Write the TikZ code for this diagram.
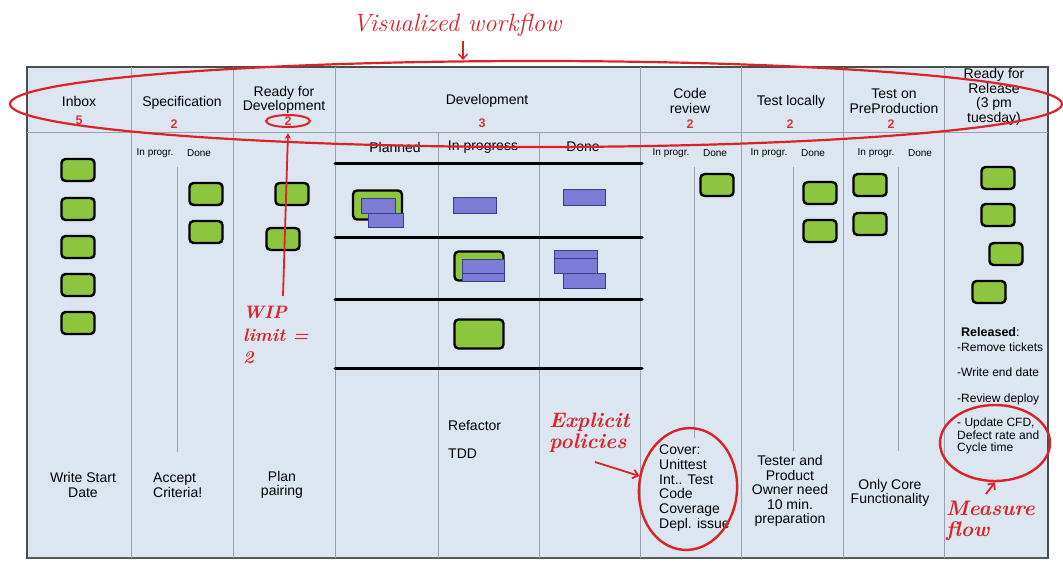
\documentclass[tikz,border=0pt]{standalone}
\usepackage{fontspec}
\setsansfont{Liberation Sans}
\usetikzlibrary{shapes.geometric,arrows.meta}
\definecolor{boardBlue}{HTML}{DCE6F1}
\definecolor{gridGray}{HTML}{9AA3AD}
\definecolor{cardGreen}{HTML}{8CC63E}
\definecolor{taskPurple}{HTML}{7C7CD6}
\definecolor{taskBorder}{HTML}{3B3B8F}
\definecolor{noteRed}{HTML}{DC2228}
\definecolor{limitRed}{HTML}{D7343A}

\begin{document}
\begin{tikzpicture}[x=1pt, y=-1pt,
  boardText/.style={font=\sffamily\fontsize{14}{14.6}\selectfont, inner sep=0pt, align=center},
  subText/.style={font=\sffamily\fontsize{10}{11}\selectfont, inner sep=0pt},
  listText/.style={font=\sffamily\fontsize{12}{12.5}\selectfont, inner sep=0pt, anchor=west, align=left},
  limitText/.style={font=\sffamily\bfseries\fontsize{12.5}{13}\selectfont, text=limitRed, inner sep=0pt},
  cardStyle/.style={draw=black, line width=2.4pt, fill=cardGreen, rounded corners=4pt, minimum width=33pt, minimum height=22pt, inner sep=0pt},
  bigCard/.style={cardStyle, minimum width=49pt, minimum height=29pt},
  taskStyle/.style={draw=taskBorder, line width=0.7pt, fill=taskPurple},
  gridLine/.style={draw=gridGray, line width=1pt},
  laneLine/.style={line width=3pt, line cap=round},
  handText/.style={font=\rmfamily\bfseries\itshape\fontsize{21}{21}\selectfont, text=noteRed, inner sep=0pt, align=left},
  ringStyle/.style={ellipse, draw=noteRed, line width=2.4pt, inner sep=0pt},
  annArrow/.style={draw=noteRed, line width=1.8pt, -{Straight Barb[length=5pt,width=9pt]}}
]
\path[fill=white] (0,0) rectangle (1063,576);
\useasboundingbox (0,0) rectangle (1063,576);

% board and columns
\draw[fill=boardBlue, draw=gray!60!black, line width=1.5pt] (27,67) rectangle (1048,558);
\draw[draw=gray!70!black, line width=2.5pt] (27,558) -- (1048,558);
\draw[gridLine] (27,132) -- (1048,132);
\draw[gridLine] (131,67) -- (131,558);
\draw[gridLine] (233,67) -- (233,558);
\draw[gridLine] (335,67) -- (335,558);
\draw[gridLine] (640,67) -- (640,558);
\draw[gridLine] (741,67) -- (741,558);
\draw[gridLine] (843,67) -- (843,558);
\draw[gridLine] (944,67) -- (944,558);
\draw[gridLine] (438,132) -- (438,558);
\draw[gridLine] (539,132) -- (539,558);
\draw[gridLine] (177,167) -- (177,452);
\draw[gridLine] (694,167) -- (694,438);
\draw[gridLine] (793,167) -- (793,451);
\draw[gridLine] (898,167) -- (898,451);

% swim lanes of development
\draw[laneLine] (335,163) -- (642,163);
\draw[laneLine] (335,237) -- (642,237);
\draw[laneLine] (335,299) -- (642,299);
\draw[laneLine] (335,368) -- (642,368);

% column heads
\node[boardText] (inboxHead)   at (79,101)  {Inbox};
\node[boardText] (specHead)    at (182,103) {Specification};
\node[boardText] (readyHead)   at (284,100) {Ready for\\Development};
\node[boardText] (devHead)     at (487,101) {Development};
\node[boardText] (codeHead)    at (690,101) {Code\\review};
\node[boardText] (testHead)    at (791,102) {Test locally};
\node[boardText] (preHead)     at (894,101) {Test on\\PreProduction};
\node[boardText] (releaseHead) at (994,97)  {Ready for\\Release\\(3 pm\\tuesday)};

\node[limitText] (inboxLimit) at (79,120)  {5};
\node[limitText] (specLimit)  at (174,124) {2};
\node[limitText] (readyLimit) at (288,121) {2};
\node[limitText] (devLimit)   at (482,123) {3};
\node[limitText] (codeLimit)  at (690,124) {2};
\node[limitText] (testLimit)  at (790,124) {2};
\node[limitText] (preLimit)   at (891,124) {2};

\node[subText] (specProg) at (155,153) {In progr.};
\node[subText] (specDone) at (199,153) {Done};
\node[subText] (codeProg) at (671,153) {In progr.};
\node[subText] (codeDone) at (715,153) {Done};
\node[subText] (testProg) at (769,153) {In progr.};
\node[subText] (testDone) at (813,153) {Done};
\node[subText] (preProg)  at (876,153) {In progr.};
\node[subText] (preDone)  at (920,153) {Done};

\node[boardText] (devPlanned)  at (395,147) {Planned};
\node[boardText] (devProgress) at (483,147) {In progress};
\node[boardText] (devDone)     at (583,147) {Done};

% cards
\node[cardStyle] (inboxCardA) at (78,170) {};
\node[cardStyle] (inboxCardB) at (78,209) {};
\node[cardStyle] (inboxCardC) at (78,247) {};
\node[cardStyle] (inboxCardD) at (78,285) {};
\node[cardStyle] (inboxCardE) at (78,323) {};
\node[cardStyle] (specCardA)  at (206,194) {};
\node[cardStyle] (specCardB)  at (206,232) {};
\node[cardStyle] (readyCardA) at (292,194) {};
\node[cardStyle] (readyCardB) at (283,239) {};
\node[cardStyle] (codeCard)   at (717,185) {};
\node[cardStyle] (testCardA)  at (820,193) {};
\node[cardStyle] (testCardB)  at (820,231) {};
\node[cardStyle] (preCardA)   at (870,185) {};
\node[cardStyle] (preCardB)   at (870,224) {};
\node[cardStyle] (relCardA)   at (998,178) {};
\node[cardStyle] (relCardB)   at (998,215) {};
\node[cardStyle] (relCardC)   at (1006,254) {};
\node[cardStyle] (relCardD)   at (989,292) {};
\node[bigCard] (planCard)  at (377.5,205) {};
\node[bigCard] (progCardA) at (479,266) {};
\node[bigCard] (progCardB) at (479,334) {};

% tasks
\draw[taskStyle] (361,198) rectangle (395,213);
\draw[taskStyle] (368,213) rectangle (403,227);
\draw[taskStyle] (453,197) rectangle (496,213);
\draw[taskStyle] (563,189) rectangle (605,205);
\draw[taskStyle] (462,266) rectangle (504,281);
\draw[taskStyle] (462,259) rectangle (504,273);
\draw[taskStyle] (554,250) rectangle (597,265);
\draw[taskStyle] (554,258) rectangle (597,273);
\draw[taskStyle] (563,273) rectangle (605,288);

% policies
\node[boardText] (inboxRule) at (83,485)  {Write Start\\Date};
\node[boardText, anchor=west, align=left] (specRule) at (153,485) {Accept\\Criteria!};
\node[boardText] (readyRule) at (282,485) {Plan\\pairing};
\node[boardText, anchor=west] (devRefactor) at (448,425) {Refactor};
\node[boardText, anchor=west] (devTdd)      at (448,454) {TDD};
\node[boardText, anchor=west, align=left, font=\sffamily\fontsize{14}{14.8}\selectfont] (codeRule) at (659,488) {Cover:\\Unittest\\Int.. Test\\Code\\Coverage\\Depl. issue};
\node[boardText] (testRule) at (790,491) {Tester and\\Product\\Owner need\\10 min.\\preparation};
\node[boardText] (preRule)  at (890,493) {Only Core\\Functionality};

\node[listText, font=\sffamily\fontsize{12.5}{13}\selectfont] (relHead) at (961,332) {\textbf{Released}:};
\node[listText] (relRemove) at (957,347) {-Remove tickets};
\node[listText] (relWrite)  at (957,372) {-Write end date};
\node[listText] (relReview) at (957,399) {-Review deploy};
\node[listText] (relUpdate) at (957,436) {- Update CFD,\\Defect rate and\\Cycle time};

% notes
\node[ringStyle, line width=2.2pt, minimum width=1052pt, minimum height=86pt] (flowRing) at (536,104) {};
\node[handText, font=\rmfamily\itshape\fontsize{25}{25}\selectfont, anchor=base] (flowTitle) at (457,31) {Visualized workflow};
\coordinate (flowTip) at (463,60);
\draw[annArrow, line width=1.4pt] (463,41) -- (flowTip);

\node[ringStyle, line width=2pt, minimum width=44pt, minimum height=12pt] (wipRing) at (288,121) {};
\node[handText, font=\rmfamily\bfseries\itshape\fontsize{18}{22.5}\selectfont, anchor=west] (wipNote) at (243,335) {WIP\\limit =\\2};
\coordinate (wipTail) at (283,296);
\draw[annArrow, -{Stealth[length=6pt,width=6pt]}] (wipTail) -- ([yshift=-5pt]wipRing.south);

\node[ringStyle, minimum width=98pt, minimum height=122pt, rotate=-5] (policyRing) at (688,489) {};
\node[handText, anchor=west] (policyNote) at (549,433) {Explicit\\policies};
\coordinate (policyTail) at (595,462);
\draw[annArrow] (policyTail) -- (policyRing.170);

\node[ringStyle, minimum width=110pt, minimum height=76pt] (measureRing) at (995,443) {};
\node[handText, anchor=west] (measureNote) at (946,521) {Measure\\flow};
\coordinate (measureTail) at (986,494);
\draw[annArrow] (measureTail) -- (measureRing.south);
\end{tikzpicture}
\end{document}
